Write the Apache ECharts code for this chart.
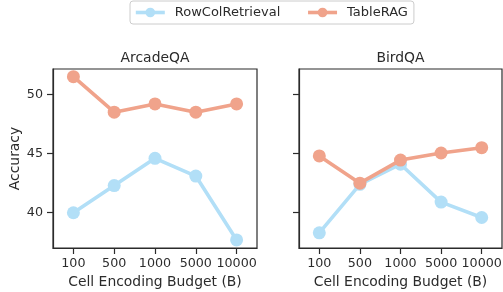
<!DOCTYPE html>
<html><head><meta charset="utf-8">
<script src="https://cdn.jsdelivr.net/npm/echarts@6/dist/echarts.min.js"></script>
<style>html,body{margin:0;padding:0;background:#fff}#c{width:503px;height:292px}</style>
</head><body><div id="c"></div>
<script>
const categories = ['100','500','1000','5000','10000'];
const panels = ['ArcadeQA','BirdQA'];
const seriesNames = ['RowColRetrieval','TableRAG'];
const arcadeRowCol = [40.0, 42.3, 44.6, 43.1, 37.7];
const arcadeTableRAG = [51.5, 48.5, 49.2, 48.5, 49.2];
const birdRowCol = [38.3, 42.4, 44.1, 40.9, 39.6];
const birdTableRAG = [44.8, 42.5, 44.45, 45.05, 45.5];
const yTicks = [40, 45, 50];

const FONT = 'DejaVu Sans';
const FS_TICK = 12.7;
const FS_LAB = 13.9;
const colors = ['#b2dff7', '#f0a38b'];
const ink = '#2b2b2b';
const grids = [
  {left: 53, top: 69, width: 204, height: 179},
  {left: 299, top: 69, width: 203, height: 179}
];
const chart = echarts.init(document.getElementById('c'), null, {renderer: 'canvas'});
function xAxis(i) {
  return {
    type: 'category', gridIndex: i, data: categories, boundaryGap: true,
    name: 'Cell Encoding Budget (B)', nameLocation: 'middle', nameGap: 25,
    nameTextStyle: {fontFamily: FONT, fontSize: FS_LAB, color: ink},
    axisLine: {show: true, lineStyle: {color: ink, width: 1.2}},
    axisTick: {show: true, alignWithLabel: true, interval: 0, length: 6, lineStyle: {color: ink, width: 1.2}},
    axisLabel: {interval: 0, fontFamily: FONT, fontSize: FS_TICK, color: ink, margin: 9.5, hideOverlap: false},
    splitLine: {show: false}
  };
}
function yAxis(i) {
  return {
    type: 'value', gridIndex: i, min: 37.02, max: 52.15,
    name: i === 0 ? 'Accuracy' : '', nameLocation: 'middle', nameGap: 31,
    nameTextStyle: {fontFamily: FONT, fontSize: FS_LAB, color: ink},
    axisLine: {show: true, lineStyle: {color: ink, width: 1.2}},
    axisTick: {show: true, length: 6, customValues: yTicks, lineStyle: {color: ink, width: 1.2}},
    axisLabel: {show: i === 0, customValues: yTicks, fontFamily: FONT, fontSize: FS_TICK, color: ink, margin: 10},
    splitLine: {show: false}
  };
}
function line(name, data, idx, color) {
  return {
    type: 'line', name: name, xAxisIndex: idx, yAxisIndex: idx, data: data,
    symbol: 'circle', symbolSize: 13, showSymbol: true,
    lineStyle: {color: color, width: 3.6}, itemStyle: {color: color},
    emphasis: {disabled: true}, animation: false, z: name === 'TableRAG' ? 3 : 2
  };
}
chart.setOption({
  animation: false,
  title: panels.map((t, i) => ({
    text: t, left: grids[i].left + grids[i].width / 2, top: 51, padding: 0, textAlign: 'center',
    textStyle: {fontFamily: FONT, fontSize: FS_LAB, fontWeight: 'normal', color: ink}
  })),
  legend: {
    data: seriesNames, top: 1, left: 130,
    itemWidth: 29, itemHeight: 12, itemGap: 26,
    padding: [5, 6, 5, 4],
    borderColor: '#cccccc', borderWidth: 1, borderRadius: 3,
    lineStyle: {width: 3.6},
    textStyle: {fontFamily: FONT, fontSize: 13, color: ink, padding: [0, 0, 0, 5]}
  },
  grid: grids.map(g => Object.assign({show: true, borderColor: ink, borderWidth: 1.2, backgroundColor: 'transparent', outerBoundsMode: 'none', containLabel: false}, g)),
  xAxis: [xAxis(0), xAxis(1)],
  yAxis: [yAxis(0), yAxis(1)],
  series: [
    line(seriesNames[0], arcadeRowCol, 0, colors[0]),
    line(seriesNames[1], arcadeTableRAG, 0, colors[1]),
    line(seriesNames[0], birdRowCol, 1, colors[0]),
    line(seriesNames[1], birdTableRAG, 1, colors[1])
  ]
});
</script></body></html>
